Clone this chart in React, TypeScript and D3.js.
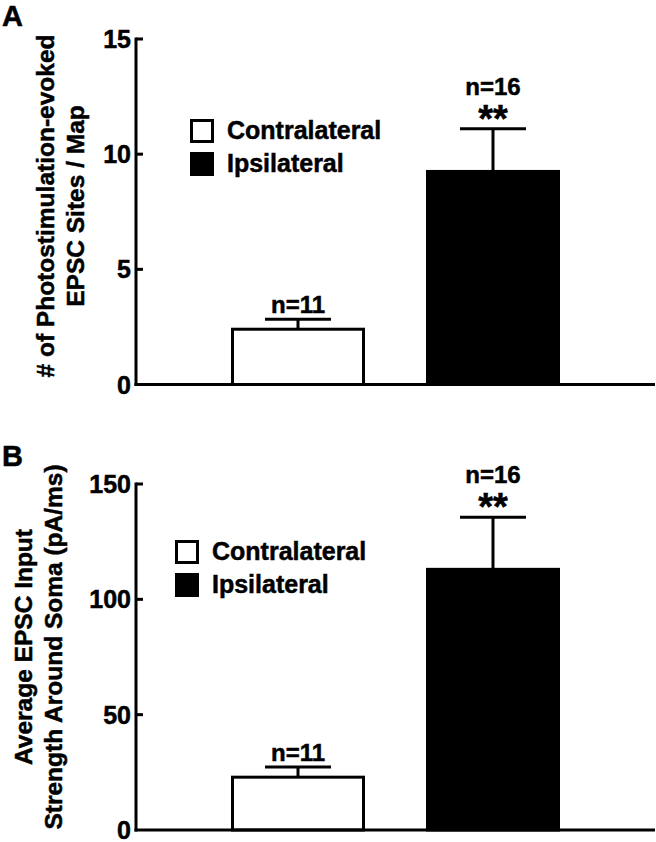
import React from "react";
import * as d3 from "d3";

const categories = ["Contralateral", "Ipsilateral"];
const sitesMean = [2.4, 9.25];
const sitesSEM = [0.43, 1.85];
const strengthMean = [22.9, 113];
const strengthSEM = [4.4, 22.6];
const nLabels = ["n=11", "n=16"];
const sigLabels = ["", "**"];
const sitesTicks = [0, 5, 10, 15];
const strengthTicks = [0, 50, 100, 150];
const sitesTitle = ["# of Photostimulation-evoked", "EPSC Sites / Map"];
const strengthTitle = ["Average EPSC Input", "Strength Around Soma (pA/ms)"];
const fills = ["#ffffff", "#000000"];

const FONT = "'Liberation Sans', Arial, Helvetica, sans-serif";
const TS = { stroke: "#000", strokeWidth: 0.5 } as const;

type PanelProps = {
  letter: string;
  letterY: number;
  means: number[];
  sems: number[];
  ticks: number[];
  domainMax: number;
  y0: number;
  y1: number;
  title: string[];
  titleX: number;
  titleCY: number;
  legendX: number;
  legendY: number;
};

function Panel(p: PanelProps) {
  const axisX = 136;
  const axisRight = 655;
  const y = d3.scaleLinear().domain([0, p.domainMax]).range([p.y0, p.y1]);
  const x = d3.scalePoint<string>().domain(categories).range([298, 493]);
  const barW = 131;
  const capHalf = 33;
  return (
    <g>
      <text x={2} y={p.letterY} fontFamily={FONT} fontWeight="bold" fontSize={29} {...TS}>
        {p.letter}
      </text>
      {p.title.map((t, i) => (
        <text
          key={i}
          transform={`translate(${p.titleX + i * 30},${p.titleCY}) rotate(-90)`}
          textAnchor="middle"
          fontFamily={FONT}
          fontWeight="bold"
          fontSize={24.5}
          {...TS}
        >
          {t}
        </text>
      ))}
      {categories.map((c, i) => {
        const cx = x(c)!;
        const top = y(p.means[i]);
        const errTop = y(p.means[i] + p.sems[i]);
        return (
          <g key={c}>
            <line x1={cx} x2={cx} y1={top} y2={errTop} stroke="#000" strokeWidth={3} />
            <line x1={cx - capHalf} x2={cx + capHalf} y1={errTop} y2={errTop} stroke="#000" strokeWidth={3} />
            <rect
              x={cx - barW / 2}
              y={top}
              width={barW}
              height={p.y0 - top}
              fill={fills[i]}
              stroke="#000"
              strokeWidth={3}
            />
            {sigLabels[i] ? (
              <>
                <text x={cx} y={errTop - 34} textAnchor="middle" fontFamily={FONT} fontWeight="bold" fontSize={24} {...TS}>
                  {nLabels[i]}
                </text>
                <text x={cx} y={errTop + 3} textAnchor="middle" fontFamily={FONT} fontWeight="bold" fontSize={38} {...TS}>
                  {sigLabels[i]}
                </text>
              </>
            ) : (
              <text x={cx} y={errTop - 6} textAnchor="middle" fontFamily={FONT} fontWeight="bold" fontSize={24} {...TS}>
                {nLabels[i]}
              </text>
            )}
          </g>
        );
      })}
      <line x1={axisX} x2={axisX} y1={y(p.domainMax) - 1.5} y2={p.y0 + 1.5} stroke="#000" strokeWidth={3} />
      <line x1={axisX - 1.5} x2={axisRight} y1={p.y0} y2={p.y0} stroke="#000" strokeWidth={3} />
      {p.ticks.map((t) => (
        <g key={t}>
          {t !== 0 && (
            <line x1={axisX} x2={axisX + 7} y1={y(t)} y2={y(t)} stroke="#000" strokeWidth={3} />
          )}
          <text
            x={axisX - 5}
            y={y(t)}
            dy="0.36em"
            textAnchor="end"
            fontFamily={FONT}
            fontWeight="bold"
            fontSize={25}
            {...TS}
          >
            {t}
          </text>
        </g>
      ))}
      {categories.map((c, i) => (
        <g key={c}>
          <rect
            x={p.legendX + 1.5}
            y={p.legendY + i * 33 + 1.5}
            width={21}
            height={21}
            fill={fills[i]}
            stroke="#000"
            strokeWidth={3}
          />
          <text
            x={p.legendX + 37}
            y={p.legendY + i * 33 + 20}
            fontFamily={FONT}
            fontWeight="bold"
            fontSize={25}
            {...TS}
          >
            {c}
          </text>
        </g>
      ))}
    </g>
  );
}

export default function App() {
  return (
    <svg
      width={656}
      height={842}
      style={{ position: "absolute", left: 0, top: 0, background: "#fff" }}
    >
      <rect width={656} height={842} fill="#fff" />
      <Panel
        letter="A"
        letterY={26}
        means={sitesMean}
        sems={sitesSEM}
        ticks={sitesTicks}
        domainMax={15}
        y0={384.5}
        y1={39}
        title={sitesTitle}
        titleX={54}
        titleCY={206}
        legendX={190}
        legendY={119}
      />
      <Panel
        letter="B"
        letterY={466}
        means={strengthMean}
        sems={strengthSEM}
        ticks={strengthTicks}
        domainMax={150}
        y0={830}
        y1={484}
        title={strengthTitle}
        titleX={32}
        titleCY={647}
        legendX={175}
        legendY={540}
      />
    </svg>
  );
}
